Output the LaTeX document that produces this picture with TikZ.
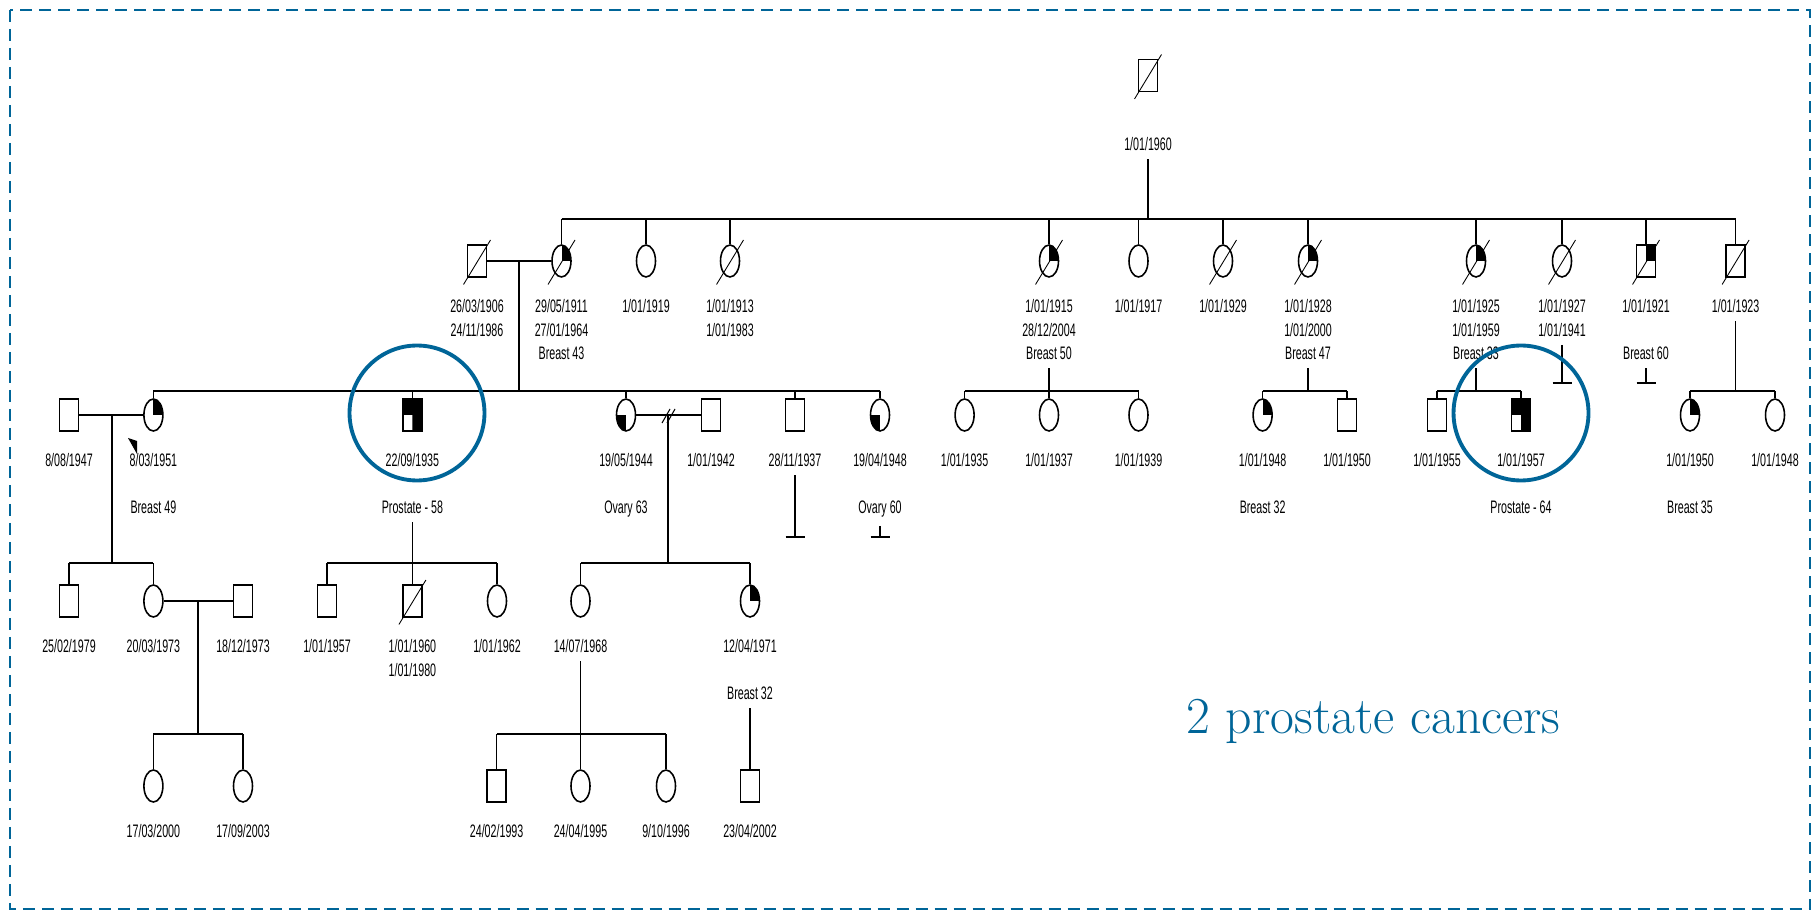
\documentclass[tikz,border=0pt]{standalone}
\usepackage{fontspec}
\usetikzlibrary{positioning, shapes.geometric, calc}
\newfontfamily\pedfont[FakeStretch=0.59]{Liberation Sans}
\definecolor{markblue}{RGB}{0,101,152}
\newcommand\deceased[1]{\draw[line width=0.5pt] ([shift={(-0.27cm,-0.47cm)}]#1.center) -- ([shift={(0.27cm,0.42cm)}]#1.center);}

\begin{document}
\begin{tikzpicture}[x=0.02cm, y=-0.02cm,
        male/.style={
            rectangle,
            draw,
            line width=0.9pt,
            minimum width=0.38cm,
            minimum height=0.64cm,
            inner sep=0pt
        },
        female/.style={
            ellipse,
            draw,
            line width=0.9pt,
            minimum width=0.38cm,
            minimum height=0.64cm,
            inner sep=0pt
        },
        quart/.style={path picture={\fill (path picture bounding box.center) rectangle (path picture bounding box.north east);}},
        lowquart/.style={path picture={\fill (path picture bounding box.center) rectangle (path picture bounding box.south west);}},
        prost/.style={path picture={\fill (path picture bounding box.south east) -- (path picture bounding box.north east) -- (path picture bounding box.north west) -- (path picture bounding box.west) -- (path picture bounding box.center) -- (path picture bounding box.south) -- cycle;}},
        info/.style={
            font=\pedfont\fontsize{10.3}{13.4}\selectfont,
            align=center,
            inner sep=0pt,
            below=0.43cm of #1
        },
        tie/.style={line width=0.8pt},
        sibs/.style={line width=1.1pt},
        ring/.style={circle, draw=markblue, line width=2.2pt, minimum size=2.7cm, inner sep=0pt}
    ]
        \useasboundingbox (0,0) rectangle (1814,911);
        \draw[markblue, line width=1.4pt, dash pattern=on 0.24cm off 0.14cm] (10,10) rectangle (1810,909);

        \node[male] (F) at (1148,75.5) {};
        \node[info=F, below=0.9cm of F] (Ft) {1/01/1960};

        \node[male] (A1) at (477,261) {};
        \node[female, quart] (A2) at (561.5,261) {};
        \node[female] (A3) at (646,261) {};
        \node[female] (A4) at (730,261) {};
        \node[female, quart] (A5) at (1049,261) {};
        \node[female] (A6) at (1138.5,261) {};
        \node[female] (A7) at (1223,261) {};
        \node[female, quart] (A8) at (1308,261) {};
        \node[female, quart] (A9) at (1476,261) {};
        \node[female] (A10) at (1562,261) {};
        \node[male, quart] (A11) at (1646,261) {};
        \node[male] (A12) at (1735.6,261) {};

        \node[info=A1] (A1t) {26/03/1906\\24/11/1986};
        \node[info=A2] (A2t) {29/05/1911\\27/01/1964\\Breast 43};
        \node[info=A3] (A3t) {1/01/1919};
        \node[info=A4] (A4t) {1/01/1913\\1/01/1983};
        \node[info=A5] (A5t) {1/01/1915\\28/12/2004\\Breast 50};
        \node[info=A6] (A6t) {1/01/1917};
        \node[info=A7] (A7t) {1/01/1929};
        \node[info=A8] (A8t) {1/01/1928\\1/01/2000\\Breast 47};
        \node[info=A9] (A9t) {1/01/1925\\1/01/1959\\Breast 33};
        \node[info=A10] (A10t) {1/01/1927\\1/01/1941};
        \node[info=A11] (A11t) {1/01/1921\\[13.4pt]Breast 60};
        \node[info=A12] (A12t) {1/01/1923};

        \node[male] (B0) at (69,415) {};
        \node[female, quart] (B1) at (153.4,415) {};
        \node[male, prost] (B2) at (412.4,415) {};
        \node[female, lowquart] (B3) at (626,415) {};
        \node[male] (B3s) at (711,415) {};
        \node[male] (B4) at (795,415) {};
        \node[female, lowquart] (B5) at (880,415) {};
        \node[female] (C1) at (964.6,415) {};
        \node[female] (C2) at (1049,415) {};
        \node[female] (C3) at (1138.5,415) {};
        \node[female, quart] (C4) at (1262.6,415) {};
        \node[male] (C5) at (1347,415) {};
        \node[male] (C6) at (1437,415) {};
        \node[male, prost] (C7) at (1521,415) {};
        \node[female, quart] (C8) at (1690,415) {};
        \node[female] (C9) at (1775,415) {};

        \node[info=B0] (B0t) {8/08/1947};
        \node[info=B1] (B1t) {8/03/1951\\[13.4pt]Breast 49};
        \node[info=B2] (B2t) {22/09/1935\\[13.4pt]Prostate - 58};
        \node[info=B3] (B3t) {19/05/1944\\[13.4pt]Ovary 63};
        \node[info=B3s] (B3st) {1/01/1942};
        \node[info=B4] (B4t) {28/11/1937};
        \node[info=B5] (B5t) {19/04/1948\\[13.4pt]Ovary 60};
        \node[info=C1] (C1t) {1/01/1935};
        \node[info=C2] (C2t) {1/01/1937};
        \node[info=C3] (C3t) {1/01/1939};
        \node[info=C4] (C4t) {1/01/1948\\[13.4pt]Breast 32};
        \node[info=C5] (C5t) {1/01/1950};
        \node[info=C6] (C6t) {1/01/1955};
        \node[info=C7] (C7t) {1/01/1957\\[13.4pt]Prostate - 64};
        \node[info=C8] (C8t) {1/01/1950\\[13.4pt]Breast 35};
        \node[info=C9] (C9t) {1/01/1948};

        \node[male] (D1) at (69,601) {};
        \node[female] (D2) at (153.4,601) {};
        \node[male] (D2s) at (243,601) {};
        \node[male] (D3) at (327,601) {};
        \node[male] (D4) at (412.4,601) {};
        \node[female] (D5) at (497,601) {};
        \node[female] (D6) at (580.5,601) {};
        \node[female, quart] (D7) at (750,601) {};

        \node[info=D1] (D1t) {25/02/1979};
        \node[info=D2] (D2t) {20/03/1973};
        \node[info=D2s] (D2st) {18/12/1973};
        \node[info=D3] (D3t) {1/01/1957};
        \node[info=D4] (D4t) {1/01/1960\\1/01/1980};
        \node[info=D5] (D5t) {1/01/1962};
        \node[info=D6] (D6t) {14/07/1968};
        \node[info=D7] (D7t) {12/04/1971\\[13.4pt]Breast 32};

        \node[female] (E1) at (153.4,786) {};
        \node[female] (E2) at (243,786) {};
        \node[male] (E3) at (496.6,786) {};
        \node[female] (E4) at (580.5,786) {};
        \node[female] (E5) at (666,786) {};
        \node[male] (E6) at (750,786) {};

        \node[info=E1] (E1t) {17/03/2000};
        \node[info=E2] (E2t) {17/09/2003};
        \node[info=E3] (E3t) {24/02/1993};
        \node[info=E4] (E4t) {24/04/1995};
        \node[info=E5] (E5t) {9/10/1996};
        \node[info=E6] (E6t) {23/04/2002};

        \deceased{F}
        \deceased{A1}
        \deceased{A2}
        \deceased{A4}
        \deceased{A5}
        \deceased{A7}
        \deceased{A8}
        \deceased{A9}
        \deceased{A10}
        \deceased{A11}
        \deceased{A12}
        \deceased{D4}

        \coordinate (s2) at (1148,219);
        \draw[tie] ([yshift=-0.16cm]Ft.south) -- (s2);
        \draw[sibs] (s2 -| A2) -- (s2 -| A12);
        \draw[tie] (s2 -| A2) -- (A2.north) (s2 -| A3) -- (A3.north) (s2 -| A4) -- (A4.north)
            (s2 -| A5) -- (A5.north) (s2 -| A6) -- (A6.north) (s2 -| A7) -- (A7.north)
            (s2 -| A8) -- (A8.north) (s2 -| A9) -- (A9.north) (s2 -| A10) -- (A10.north)
            (s2 -| A11) -- (A11.north) (s2 -| A12) -- (A12.north);

        \draw[tie] (A1.east) -- (A2.west);
        \coordinate (m2) at (519,261);
        \coordinate (s3) at (519,391);
        \draw[tie] (m2) -- (s3);
        \draw[sibs] (s3 -| B1) -- (s3 -| B5);
        \draw[tie] (s3 -| B1) -- (B1.north) (s3 -| B2) -- (B2.north) (s3 -| B3) -- (B3.north)
            (s3 -| B4) -- (B4.north) (s3 -| B5) -- (B5.north);

        \coordinate (s3b) at (1049,391);
        \draw[tie] ([yshift=-0.16cm]A5t.south) -- (s3b);
        \draw[sibs] (s3b -| C1) -- (s3b -| C3);
        \draw[tie] (s3b -| C1) -- (C1.north) (s3b -| C2) -- (C2.north) (s3b -| C3) -- (C3.north);

        \coordinate (s3c) at (1308,391);
        \draw[tie] ([yshift=-0.16cm]A8t.south) -- (s3c);
        \draw[sibs] (s3c -| C4) -- (s3c -| C5);
        \draw[tie] (s3c -| C4) -- (C4.north) (s3c -| C5) -- (C5.north);

        \coordinate (s3d) at (1476,391);
        \draw[tie] ([yshift=-0.16cm]A9t.south) -- (s3d);
        \draw[sibs] (s3d -| C6) -- (s3d -| C7);
        \draw[tie] (s3d -| C6) -- (C6.north) (s3d -| C7) -- (C7.north);

        \coordinate (s3e) at (1735.6,391);
        \draw[tie] ([yshift=-0.16cm]A12t.south) -- (s3e);
        \draw[sibs] (s3e -| C8) -- (s3e -| C9);
        \draw[tie] (s3e -| C8) -- (C8.north) (s3e -| C9) -- (C9.north);

        \coordinate (A10e) at (1562,383);
        \draw[tie] ([yshift=-0.16cm]A10t.south) -- (A10e);
        \draw[tie] ([xshift=-0.19cm]A10e) -- ([xshift=0.19cm]A10e);
        \coordinate (A11e) at (1646,383);
        \draw[tie] ([yshift=-0.16cm]A11t.south) -- (A11e);
        \draw[tie] ([xshift=-0.19cm]A11e) -- ([xshift=0.19cm]A11e);
        \coordinate (B4e) at (795,537);
        \draw[tie] ([yshift=-0.16cm]B4t.south) -- (B4e);
        \draw[tie] ([xshift=-0.19cm]B4e) -- ([xshift=0.19cm]B4e);
        \coordinate (B5e) at (880,537);
        \draw[tie] ([yshift=-0.16cm]B5t.south) -- (B5e);
        \draw[tie] ([xshift=-0.19cm]B5e) -- ([xshift=0.19cm]B5e);

        \draw[tie] (B0.east) -- (B1.west);
        \fill (128,438) -- (137,441) -- (137,454) -- cycle;
        \coordinate (m3a) at (112,415);
        \coordinate (s4a) at (112,563);
        \draw[tie] (m3a) -- (s4a);
        \draw[sibs] (s4a -| D1) -- (s4a -| D2);
        \draw[tie] (s4a -| D1) -- (D1.north) (s4a -| D2) -- (D2.north);

        \coordinate (s4b) at (412.4,563);
        \draw[tie] ([yshift=-0.16cm]B2t.south) -- (s4b);
        \draw[sibs] (s4b -| D3) -- (s4b -| D5);
        \draw[tie] (s4b -| D3) -- (D3.north) (s4b -| D4) -- (D4.north) (s4b -| D5) -- (D5.north);

        \draw[tie] (B3.east) -- (B3s.west);
        \coordinate (dv) at (668,415);
        \draw[line width=0.6pt] ([shift={(-0.12cm,-0.16cm)}]dv) -- ++(0.16cm,0.28cm)
            ([shift={(-0.02cm,-0.16cm)}]dv) -- ++(0.16cm,0.28cm);
        \coordinate (s4c) at (668,563);
        \draw[tie] (dv) -- (s4c);
        \draw[sibs] (s4c -| D6) -- (s4c -| D7);
        \draw[tie] (s4c -| D6) -- (D6.north) (s4c -| D7) -- (D7.north);

        \draw[tie] (D2.east) -- (D2s.west);
        \coordinate (m4) at (198,601);
        \coordinate (s5a) at (198,734);
        \draw[tie] (m4) -- (s5a);
        \draw[sibs] (s5a -| E1) -- (s5a -| E2);
        \draw[tie] (s5a -| E1) -- (E1.north) (s5a -| E2) -- (E2.north);

        \coordinate (s5b) at (580.5,734);
        \draw[tie] ([yshift=-0.16cm]D6t.south) -- (s5b);
        \draw[sibs] (s5b -| E3) -- (s5b -| E5);
        \draw[tie] (s5b -| E3) -- (E3.north) (s5b -| E4) -- (E4.north) (s5b -| E5) -- (E5.north);

        \draw[tie] ([yshift=-0.16cm]D7t.south) -- (E6.north);

        \node[ring] (R1) at (417,413) {};
        \node[ring] (R2) at (1521,413) {};

        \node[text=markblue, font=\fontsize{29.5}{31}\selectfont, anchor=base west, inner sep=0pt] (note) at (1186,733) {2 prostate cancers};
    \end{tikzpicture}
\end{document}
